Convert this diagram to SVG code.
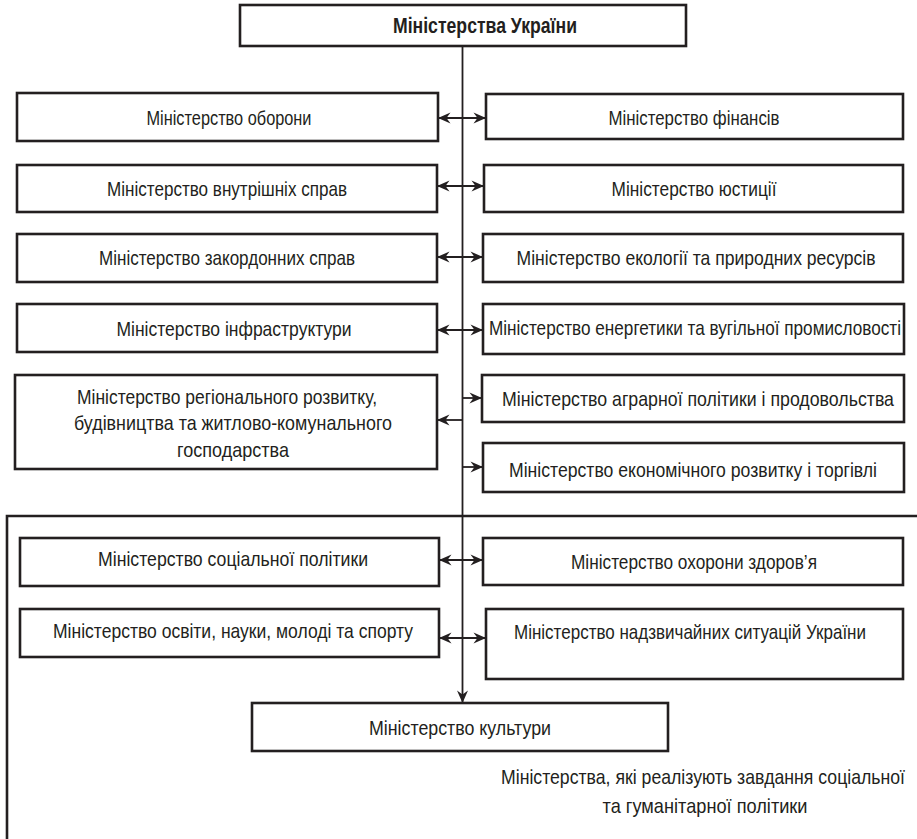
<svg xmlns="http://www.w3.org/2000/svg" width="917" height="839" viewBox="0 0 917 839">
<defs>
<style>
.box{fill:#fff;stroke:#231f20;stroke-width:2.6}
.t{font-family:"Liberation Sans",Arial,sans-serif;font-size:21px;fill:#231f20;text-anchor:middle}
.tb{font-family:"Liberation Sans",Arial,sans-serif;font-size:22px;font-weight:bold;fill:#231f20;text-anchor:middle}
.c{stroke:#231f20;stroke-width:1.8;fill:none}
.frame{stroke:#231f20;stroke-width:2.6;fill:none}
</style>
<marker id="ah" markerUnits="userSpaceOnUse" viewBox="-13 -6.5 13 13" refX="0" refY="0" markerWidth="13" markerHeight="13" orient="auto-start-reverse">
<path d="M0,0 L-12.5,-5.5 L-8.5,0 L-12.5,5.5 Z" fill="#231f20"/>
</marker>
</defs>
<rect width="917" height="839" fill="#fff"/>

<g id="frame"><path class="frame" d="M917,516 H7 V839"/></g>

<g id="connectors">
<line class="c" x1="462.5" y1="46" x2="462.5" y2="703" marker-end="url(#ah)"/>
<line class="c" x1="438" y1="118" x2="486" y2="118" marker-start="url(#ah)" marker-end="url(#ah)"/>
<line class="c" x1="437" y1="186" x2="484" y2="186" marker-start="url(#ah)" marker-end="url(#ah)"/>
<line class="c" x1="437" y1="257" x2="483" y2="257" marker-start="url(#ah)" marker-end="url(#ah)"/>
<line class="c" x1="437" y1="330" x2="483" y2="330" marker-start="url(#ah)" marker-end="url(#ah)"/>
<line class="c" x1="462.5" y1="398" x2="482" y2="398" marker-end="url(#ah)"/>
<line class="c" x1="462.5" y1="420" x2="437" y2="420" marker-end="url(#ah)"/>
<line class="c" x1="462.5" y1="467" x2="483" y2="467" marker-end="url(#ah)"/>
<line class="c" x1="439" y1="560" x2="483" y2="560" marker-start="url(#ah)" marker-end="url(#ah)"/>
<line class="c" x1="439" y1="638" x2="486" y2="638" marker-start="url(#ah)" marker-end="url(#ah)"/>
</g>

<g id="n-top"><rect class="box" x="240" y="5" width="446" height="41"/><text class="tb" x="485" y="33" textLength="184" lengthAdjust="spacingAndGlyphs">Міністерства України</text></g>

<g id="n-oborony"><rect class="box" x="17" y="93" width="421" height="48"/><text class="t" x="229" y="125" textLength="165" lengthAdjust="spacingAndGlyphs">Міністерство оборони</text></g>
<g id="n-finansiv"><rect class="box" x="486" y="94" width="417" height="45"/><text class="t" x="694" y="125" textLength="171" lengthAdjust="spacingAndGlyphs">Міністерство фінансів</text></g>

<g id="n-vnutr"><rect class="box" x="17" y="165" width="420" height="47"/><text class="t" x="227" y="196" textLength="240" lengthAdjust="spacingAndGlyphs">Міністерство внутрішніх справ</text></g>
<g id="n-yust"><rect class="box" x="484" y="165" width="419" height="47"/><text class="t" x="694" y="196" textLength="165" lengthAdjust="spacingAndGlyphs">Міністерство юстиції</text></g>

<g id="n-zakord"><rect class="box" x="17" y="234" width="420" height="48"/><text class="t" x="227" y="265" textLength="256" lengthAdjust="spacingAndGlyphs">Міністерство закордонних справ</text></g>
<g id="n-ekol"><rect class="box" x="483" y="234" width="420" height="48"/><text class="t" x="696" y="265" textLength="359" lengthAdjust="spacingAndGlyphs">Міністерство екології та природних ресурсів</text></g>

<g id="n-infra"><rect class="box" x="17" y="304" width="420" height="48"/><text class="t" x="234" y="336" textLength="235" lengthAdjust="spacingAndGlyphs">Міністерство інфраструктури</text></g>
<g id="n-energ"><rect class="box" x="483" y="304" width="421" height="50"/><text class="t" x="695" y="335" textLength="412" lengthAdjust="spacingAndGlyphs">Міністерство енергетики та вугільної промисловості</text></g>

<g id="n-region"><rect class="box" x="15" y="375" width="422" height="94"/>
<text class="t" x="227" y="404" textLength="300" lengthAdjust="spacingAndGlyphs">Міністерство регіонального розвитку,</text>
<text class="t" x="233" y="430" textLength="318" lengthAdjust="spacingAndGlyphs">будівництва та житлово-комунального</text>
<text class="t" x="233" y="457" textLength="112" lengthAdjust="spacingAndGlyphs">господарства</text></g>
<g id="n-agrar"><rect class="box" x="482" y="375" width="422" height="47"/><text class="t" x="698" y="406" textLength="392" lengthAdjust="spacingAndGlyphs">Міністерство аграрної політики і продовольства</text></g>
<g id="n-ekon"><rect class="box" x="483" y="443" width="421" height="49"/><text class="t" x="693" y="477" textLength="368" lengthAdjust="spacingAndGlyphs">Міністерство економічного розвитку і торгівлі</text></g>

<g id="n-soc"><rect class="box" x="20" y="538" width="419" height="48"/><text class="t" x="233" y="566" textLength="270" lengthAdjust="spacingAndGlyphs">Міністерство соціальної політики</text></g>
<g id="n-zdor"><rect class="box" x="483" y="538" width="420" height="47"/><text class="t" x="694" y="569" textLength="246" lengthAdjust="spacingAndGlyphs">Міністерство охорони здоров’я</text></g>

<g id="n-osvit"><rect class="box" x="20" y="609" width="419" height="48"/><text class="t" x="233" y="638" textLength="360" lengthAdjust="spacingAndGlyphs">Міністерство освіти, науки, молоді та спорту</text></g>
<g id="n-nadz"><rect class="box" x="486" y="609" width="417" height="70"/><text class="t" x="690" y="639" textLength="352" lengthAdjust="spacingAndGlyphs">Міністерство надзвичайних ситуацій України</text></g>

<g id="n-kult"><rect class="box" x="252" y="703" width="416" height="48"/><text class="t" x="460" y="735" textLength="182" lengthAdjust="spacingAndGlyphs">Міністерство культури</text></g>

<g id="caption">
<text class="t" x="703" y="784" textLength="404" lengthAdjust="spacingAndGlyphs">Міністерства, які реалізують завдання соціальної</text>
<text class="t" x="705" y="813" textLength="205" lengthAdjust="spacingAndGlyphs">та гуманітарної політики</text>
</g>
</svg>
